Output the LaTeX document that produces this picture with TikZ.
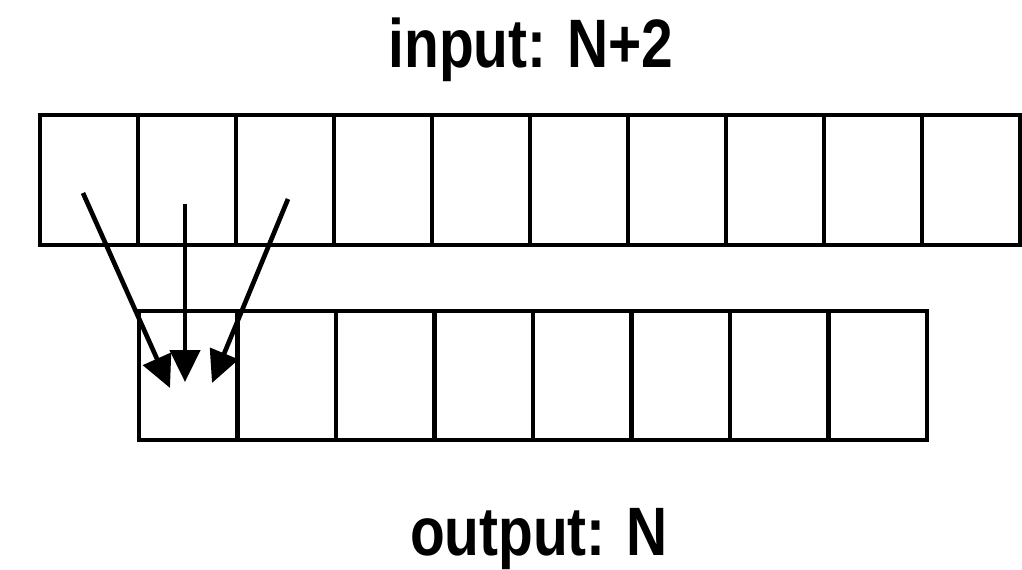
\documentclass[tikz,border=0pt]{standalone}
\usepackage{fontspec}
\usepackage{graphicx}
\setmainfont{Liberation Sans}
\usetikzlibrary{arrows.meta}
\begin{document}
\begin{tikzpicture}[x=0.02cm,y=-0.02cm,
  topcell/.style={draw=black,line width=2.65pt,minimum width=1.96cm,minimum height=2.6cm,inner sep=0pt,outer sep=0pt},
  botcell/.style={draw=black,line width=2.65pt,minimum width=1.97cm,minimum height=2.58cm,inner sep=0pt,outer sep=0pt},
  flow/.style={line width=2.65pt,-{Triangle[length=0.64cm,width=0.6cm]}},
  title/.style={inner sep=0pt,anchor=base,font=\bfseries\fontsize{39}{44}\selectfont}]
\useasboundingbox (0,0) rectangle (1022,569);
\foreach \i in {0,...,9} {
  \node[topcell] (t\i) at ({89+98*\i},180) {};
}
\foreach \j in {0,...,7} {
  \node[botcell] (b\j) at ({188.25+98.5*\j},375.5) {};
}
\node[title] (in) at (531,67) {\scalebox{0.83}[1]{input: N+2}};
\node[title] (out) at (539,555) {\scalebox{0.83}[1]{output: N}};
\coordinate (s1) at (83,193);
\coordinate (s2) at (185,204);
\coordinate (s3) at (288,199);
\coordinate (e1) at (170,388);
\coordinate (e2) at (185,382);
\coordinate (e3) at (212,383);
\draw[flow] (s1) -- (e1);
\draw[flow] (s2) -- (e2);
\draw[flow] (s3) -- (e3);
\end{tikzpicture}
\end{document}
